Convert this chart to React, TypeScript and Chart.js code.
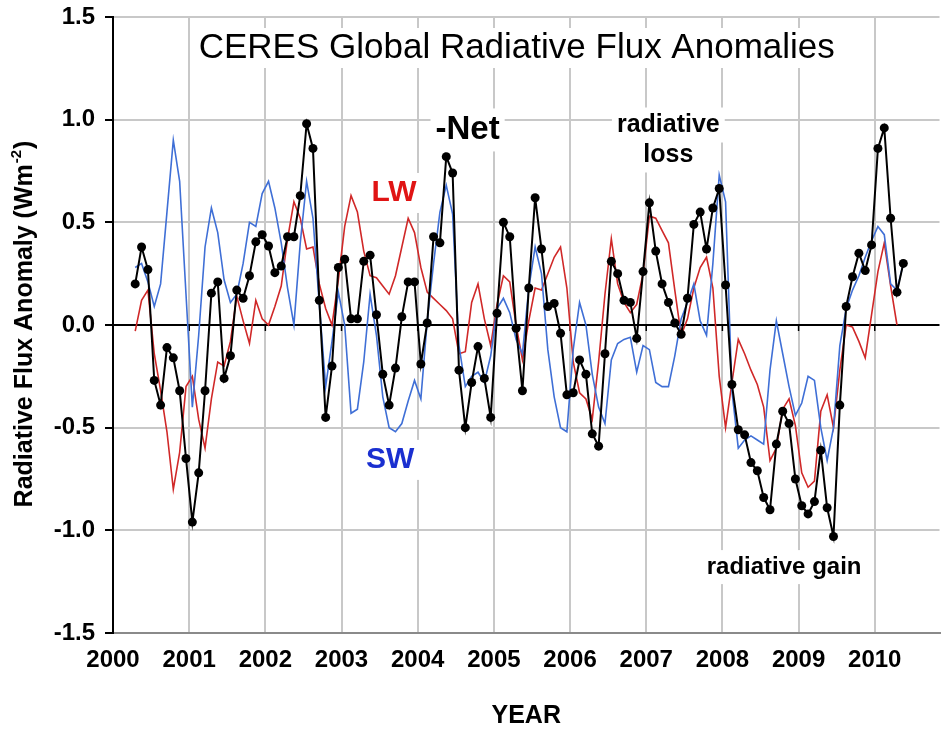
import React, { useEffect, useRef } from "react";
import { Chart, registerables } from "chart.js";

Chart.register(...registerables);

// ---------- data ----------
const START_YEAR = 2000;
const FIRST_MONTH_OFFSET = 3.5; // first monthly value, months after Jan 1 2000

const YEAR_TICKS = [2000, 2001, 2002, 2003, 2004, 2005, 2006, 2007, 2008, 2009, 2010];
const Y_TICKS = [-1.5, -1.0, -0.5, 0.0, 0.5, 1.0, 1.5];

const NET = [
  0.2, 0.38, 0.27, -0.27, -0.39, -0.11, -0.16, -0.32, -0.65, -0.96,
  -0.72, -0.32, 0.155, 0.21, -0.26, -0.15, 0.17, 0.13, 0.24, 0.405,
  0.44, 0.385, 0.255, 0.287, 0.43, 0.43, 0.63, 0.98, 0.86, 0.12,
  -0.45, -0.2, 0.28, 0.32, 0.03, 0.03, 0.31, 0.34, 0.05, -0.24,
  -0.39, -0.21, 0.04, 0.21, 0.21, -0.19, 0.01, 0.43, 0.4, 0.82,
  0.74, -0.22, -0.5, -0.28, -0.105, -0.26, -0.45, 0.057, 0.5, 0.43,
  -0.016, -0.32, 0.18, 0.62, 0.37, 0.09, 0.105, -0.04, -0.34, -0.33,
  -0.17, -0.24, -0.53, -0.59, -0.14, 0.31, 0.25, 0.12, 0.11, -0.065,
  0.26, 0.595, 0.36, 0.2, 0.11, 0.01, -0.045, 0.13, 0.49, 0.55,
  0.37, 0.57, 0.665, 0.195, -0.29, -0.51, -0.535, -0.67, -0.71, -0.84,
  -0.9, -0.58, -0.42, -0.48, -0.75, -0.88, -0.92, -0.86, -0.61, -0.89,
  -1.03, -0.39, 0.09, 0.235, 0.35, 0.265, 0.39, 0.86, 0.96, 0.52,
  0.16, 0.3,
];

const LW = [
  -0.03, 0.12, 0.17, -0.14, -0.32, -0.52, -0.8, -0.62, -0.3, -0.25,
  -0.46, -0.6, -0.36, -0.18, -0.2, -0.08, 0.14, 0.02, -0.09, 0.12,
  0.03, 0.0, 0.09, 0.19, 0.42, 0.6, 0.52, 0.37, 0.38, 0.2,
  0.08, 0.0, 0.22, 0.48, 0.63, 0.55, 0.36, 0.24, 0.23, 0.19,
  0.15, 0.24, 0.38, 0.52, 0.45, 0.28, 0.16, 0.13, 0.1, 0.07,
  0.03, -0.14, -0.13, 0.11, 0.2, 0.03, -0.1, 0.1, 0.24, 0.21,
  0.0, -0.17, 0.02, 0.18, 0.17, 0.25, 0.33, 0.38, 0.18, -0.18,
  -0.33, -0.36, -0.46, -0.18, 0.15, 0.42, 0.2, 0.11, 0.06, 0.1,
  0.25, 0.53, 0.52, 0.46, 0.4, 0.17, -0.05, 0.03, 0.18, 0.28,
  0.33, 0.18, -0.25, -0.5, -0.28, -0.07, -0.14, -0.22, -0.29, -0.4,
  -0.66, -0.6, -0.41, -0.36, -0.49, -0.72, -0.79, -0.76, -0.42, -0.34,
  -0.5, -0.22, 0.0, -0.01, -0.08, -0.16, 0.05, 0.26, 0.4, 0.19,
  0.0,
];

const SW = [
  0.28, 0.3, 0.21, 0.09, 0.2, 0.55, 0.9, 0.7, 0.15, -0.4,
  -0.05, 0.38, 0.57, 0.45, 0.22, 0.11, 0.15, 0.3, 0.5, 0.48,
  0.64, 0.7, 0.57, 0.4, 0.18, 0.0, 0.4, 0.7, 0.52, 0.1,
  -0.3, -0.08, 0.16, 0.0, -0.43, -0.41, -0.18, 0.15, -0.05, -0.35,
  -0.5, -0.52, -0.48, -0.37, -0.27, -0.36, 0.02, 0.3, 0.55, 0.68,
  0.54, -0.1, -0.3, -0.25, -0.23, -0.28, -0.15, 0.08, 0.13, 0.06,
  -0.07, -0.14, 0.18, 0.38, 0.25, -0.12, -0.35, -0.5, -0.52, -0.12,
  0.11, 0.0, -0.24, -0.4, -0.48, -0.17, -0.09, -0.07, -0.06, -0.23,
  -0.1, -0.12, -0.28, -0.3, -0.3, -0.15, 0.03, 0.11, 0.2, 0.02,
  -0.05, 0.3, 0.73, 0.6, -0.32, -0.6, -0.56, -0.54, -0.56, -0.58,
  -0.22, 0.02, -0.14, -0.3, -0.44, -0.38, -0.25, -0.27, -0.5, -0.66,
  -0.5, -0.1, 0.08, 0.17, 0.24, 0.33, 0.41, 0.48, 0.44, 0.2,
  0.17, 0.3,
];

const TITLE = "CERES Global Radiative Flux Anomalies";
const Y_TITLE_MAIN = "Radiative Flux Anomaly (Wm";
const Y_TITLE_SUP = "-2";
const Y_TITLE_END = ")";
const X_TITLE = "YEAR";

const LABEL_TEXTS = ["-Net", "LW", "SW", "radiative", "loss", "radiative gain"];
const LABEL_YEARS = [2004.655, 2003.69, 2003.64, 2007.29, 2007.29, 2008.81];
const LABEL_VALUES = [0.95, 0.643, -0.657, 0.974, 0.828, -1.179];

// ---------- styles ----------
const FONT = '"Liberation Sans", Arial, Helvetica, sans-serif';
const NET_COLOR = "#000000";
const LW_COLOR = "#d02828";
const SW_COLOR = "#3f6fd6";
const LABEL_COLORS = ["#000", "#e01414", "#1a2fd0", "#000", "#000", "#000"];
const LABEL_SIZES = [33, 30, 30, 25, 25, 24];
const TITLE_YEAR = 2005.3;
const TITLE_VALUE = 1.349;

const toPoints = (arr: number[]) =>
  arr.map((v, i) => ({ x: START_YEAR + (FIRST_MONTH_OFFSET + i) / 12, y: v }));

const overlayPlugin = {
  id: "overlay",
  beforeDatasetsDraw(chart: any) {
    const { ctx, scales, chartArea } = chart;
    const x = scales.x;
    const y = scales.y;
    ctx.save();
    ctx.fillStyle = "#ffffff";
    // title box
    ctx.font = `normal 35px ${FONT}`;
    const tw = ctx.measureText(TITLE).width;
    const tx = x.getPixelForValue(TITLE_YEAR);
    const ty = y.getPixelForValue(TITLE_VALUE);
    ctx.fillRect(tx - tw / 2 - 8, ty - 20, tw + 16, 40);
    // label boxes
    LABEL_TEXTS.forEach((t, i) => {
      ctx.font = `bold ${LABEL_SIZES[i]}px ${FONT}`;
      const w = ctx.measureText(t).width;
      const cx = x.getPixelForValue(LABEL_YEARS[i]);
      const cy = y.getPixelForValue(LABEL_VALUES[i]);
      const h = LABEL_SIZES[i];
      ctx.fillRect(cx - w / 2 - 5, cy - h / 2 - 5, w + 10, h + 10);
    });
    // small tick marks at the zero line
    const y0 = y.getPixelForValue(0);
    ctx.strokeStyle = "#000";
    ctx.lineWidth = 1.5;
    YEAR_TICKS.forEach((v) => {
      const px = x.getPixelForValue(v);
      if (px <= chartArea.left + 1) return;
      ctx.beginPath();
      ctx.moveTo(px, y0);
      ctx.lineTo(px, y0 + 6);
      ctx.stroke();
    });
    ctx.restore();
  },
  afterDatasetsDraw(chart: any) {
    const { ctx, scales } = chart;
    const x = scales.x;
    const y = scales.y;
    ctx.save();
    ctx.textAlign = "center";
    ctx.textBaseline = "middle";
    // title
    ctx.fillStyle = "#000";
    ctx.font = `normal 35px ${FONT}`;
    ctx.fillText(TITLE, x.getPixelForValue(TITLE_YEAR), y.getPixelForValue(TITLE_VALUE));
    // labels
    LABEL_TEXTS.forEach((t, i) => {
      ctx.font = `bold ${LABEL_SIZES[i]}px ${FONT}`;
      ctx.fillStyle = LABEL_COLORS[i];
      ctx.fillText(t, x.getPixelForValue(LABEL_YEARS[i]), y.getPixelForValue(LABEL_VALUES[i]));
    });
    ctx.restore();
  },
  afterDraw(chart: any) {
    const { ctx, chartArea } = chart;
    ctx.save();
    ctx.fillStyle = "#000";
    ctx.textBaseline = "middle";
    // x title
    ctx.textAlign = "center";
    ctx.font = `bold 25px ${FONT}`;
    ctx.fillText(X_TITLE, (chartArea.left + chartArea.right) / 2, 716);
    // y title rotated with superscript
    const cy = (chartArea.top + chartArea.bottom) / 2;
    ctx.translate(25, cy);
    ctx.rotate(-Math.PI / 2);
    ctx.textAlign = "left";
    ctx.font = `bold 25px ${FONT}`;
    const w1 = ctx.measureText(Y_TITLE_MAIN).width;
    const w3 = ctx.measureText(Y_TITLE_END).width;
    ctx.font = `bold 15px ${FONT}`;
    const w2 = ctx.measureText(Y_TITLE_SUP).width;
    const start = -(w1 + w2 + w3) / 2;
    ctx.font = `bold 25px ${FONT}`;
    ctx.fillText(Y_TITLE_MAIN, start, 0);
    ctx.font = `bold 15px ${FONT}`;
    ctx.fillText(Y_TITLE_SUP, start + w1 + 1, -8);
    ctx.font = `bold 25px ${FONT}`;
    ctx.fillText(Y_TITLE_END, start + w1 + w2 + 2, 0);
    ctx.restore();
  },
};

export default function App() {
  const canvasRef = useRef<HTMLCanvasElement | null>(null);

  useEffect(() => {
    if (!canvasRef.current) return;
    const tickFont = { family: FONT, size: 24, weight: "bold" as const };
    const chart = new Chart(canvasRef.current, {
      type: "line",
      data: {
        datasets: [
          {
            label: "-Net",
            data: toPoints(NET),
            borderColor: NET_COLOR,
            backgroundColor: NET_COLOR,
            borderWidth: 2,
            pointRadius: 4.5,
            pointBorderWidth: 0,
            pointBackgroundColor: NET_COLOR,
            tension: 0,
            order: 0,
          },
          {
            label: "SW",
            data: toPoints(SW),
            borderColor: SW_COLOR,
            borderWidth: 1.6,
            pointRadius: 0,
            tension: 0,
            order: 1,
          },
          {
            label: "LW",
            data: toPoints(LW),
            borderColor: LW_COLOR,
            borderWidth: 1.6,
            pointRadius: 0,
            tension: 0,
            order: 2,
          },
        ],
      },
      options: {
        animation: false,
        responsive: false,
        devicePixelRatio: 1,
        layout: { padding: { top: 17, right: 0, bottom: 0, left: 0 } },
        plugins: {
          legend: { display: false },
          tooltip: { enabled: false },
          title: { display: false },
        },
        scales: {
          x: {
            type: "linear",
            min: 2000,
            max: 2010.85,
            afterBuildTicks: (s: any) => {
              s.ticks = YEAR_TICKS.map((v) => ({ value: v }));
            },
            afterFit: (s: any) => {
              s.height = 96;
              s.paddingLeft = 0;
              s.paddingRight = 0;
            },
            grid: {
              color: (c: any) =>
                c.tick && c.tick.value === YEAR_TICKS[0] ? "rgba(0,0,0,0)" : "#c8c8c8",
              lineWidth: 2,
              drawTicks: false,
            },
            border: { display: true, color: "#8a8a8a", width: 2 },
            ticks: {
              padding: 13,
              color: "#000",
              font: tickFont,
              maxRotation: 0,
              autoSkip: false,
              callback: (v: any) => String(v),
            },
          },
          y: {
            type: "linear",
            min: -1.5,
            max: 1.5,
            afterBuildTicks: (s: any) => {
              s.ticks = Y_TICKS.map((v) => ({ value: v }));
            },
            afterFit: (s: any) => {
              s.width = 113;
              s.paddingTop = 0;
              s.paddingBottom = 0;
            },
            grid: {
              color: (c: any) => (c.tick && c.tick.value === 0 ? "#000" : "#c8c8c8"),
              lineWidth: 2,
              tickColor: "#000",
              tickLength: 8,
              tickWidth: 2,
            },
            border: { display: true, color: "#000", width: 2 },
            ticks: {
              padding: 10,
              color: "#000",
              font: tickFont,
              callback: (v: any) => Number(v).toFixed(1),
            },
          },
        },
      },
      plugins: [overlayPlugin],
    });
    return () => chart.destroy();
  }, []);

  return (
    <div style={{ position: "absolute", left: 0, top: 0, width: 944, height: 729, background: "#fff" }}>
      <canvas ref={canvasRef} width={944} height={729} style={{ display: "block" }} />
    </div>
  );
}
